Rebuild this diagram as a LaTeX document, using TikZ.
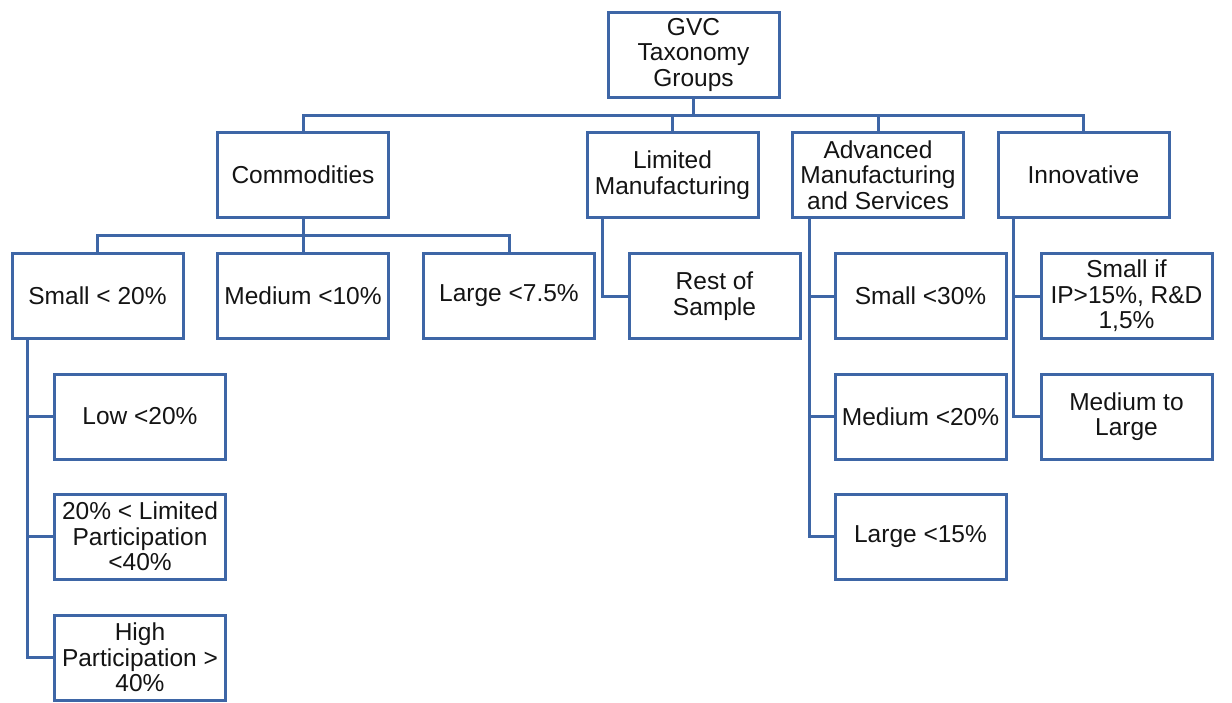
\documentclass[tikz,border=0pt]{standalone}
\usepackage{fontspec}
\setmainfont{Liberation Sans}
\definecolor{boxblue}{RGB}{62,102,166}
\definecolor{txt}{RGB}{20,20,20}
\begin{document}
\begin{tikzpicture}[x=1pt,y=1pt,
  box/.style={draw=boxblue, line width=3pt, fill=white, rectangle,
    minimum width=171pt, minimum height=85pt, inner sep=1pt, align=center,
    text=txt, font=\fontsize{24.5}{25.5}\selectfont},
  conn/.style={draw=boxblue, line width=3pt}]
\useasboundingbox (0,0) rectangle (1232,-702);
\node[box] (root) at (693.5,-54.5) {GVC\\Taxonomy\\Groups};
\node[box] (comm) at (303,-175) {Commodities};
\node[box] (lm) at (672.5,-175) {Limited\\Manufacturing};
\node[box] (adv) at (878,-175) {Advanced\\Manufacturing\\and Services};
\node[box] (inno) at (1083.5,-175) {Innovative};
\node[box] (small) at (97.5,-296) {Small < 20\%};
\node[box] (medium) at (303,-296) {Medium <10\%};
\node[box] (large) at (509,-296) {Large <7.5\%};
\node[box] (rest) at (714.5,-296) {Rest of\\Sample};
\node[box] (s30) at (920.5,-296) {Small <30\%};
\node[box] (sif) at (1126.5,-296) {Small if\\IP>15\%, R\&D\\1,5\%};
\node[box] (low) at (140,-416.5) {Low <20\%};
\node[box] (lim) at (140,-536.5) {20\% < Limited\\Participation\\<40\%};
\node[box] (high) at (140,-657.5) {High\\Participation >\\40\%};
\node[box] (m20) at (920.5,-416.5) {Medium <20\%};
\node[box] (l15) at (920.5,-536.5) {Large <15\%};
\node[box] (mtl) at (1126.5,-416.5) {Medium to\\Large};
\coordinate (bus1) at (0,-115);
\coordinate (bus2) at (0,-235.5);
\draw[conn] (root.south) -- (root.south |- bus1) -| (comm.north);
\draw[conn] (root.south) -- (root.south |- bus1) -| (lm.north);
\draw[conn] (root.south) -- (root.south |- bus1) -| (adv.north);
\draw[conn] (root.south) -- (root.south |- bus1) -| (inno.north);
\draw[conn] (comm.south) -- (comm.south |- bus2) -| (small.north);
\draw[conn] (comm.south) -- (medium.north);
\draw[conn] (comm.south) -- (comm.south |- bus2) -| (large.north);
\draw[conn] ([xshift=17pt]small.south west) |- (low.west);
\draw[conn] ([xshift=17pt]small.south west) |- (lim.west);
\draw[conn] ([xshift=17pt]small.south west) |- (high.west);
\draw[conn] ([xshift=17pt]lm.south west) |- (rest.west);
\draw[conn] ([xshift=18pt]adv.south west) |- (s30.west);
\draw[conn] ([xshift=18pt]adv.south west) |- (m20.west);
\draw[conn] ([xshift=18pt]adv.south west) |- (l15.west);
\draw[conn] ([xshift=17pt]inno.south west) |- (sif.west);
\draw[conn] ([xshift=17pt]inno.south west) |- (mtl.west);
\end{tikzpicture}
\end{document}
